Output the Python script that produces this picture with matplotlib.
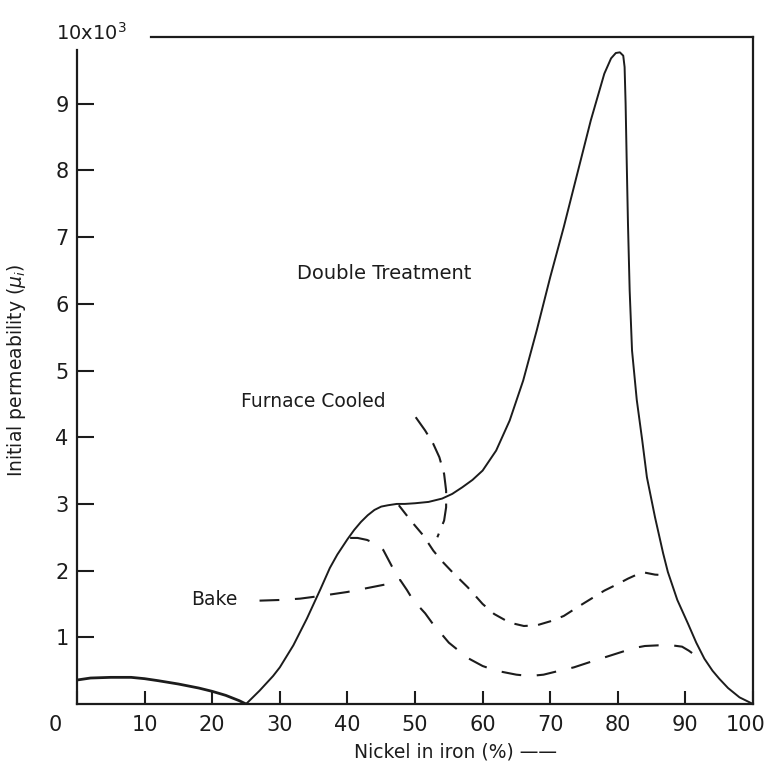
import matplotlib
matplotlib.use("Agg")
import matplotlib.pyplot as plt
from matplotlib.transforms import ScaledTranslation

# values (x = % nickel, y = permeability in 10^3)
low_x = [0, 2, 5, 8, 10, 12, 15, 18, 20, 22, 24, 25]
low_y = [0.36, 0.39, 0.40, 0.40, 0.38, 0.35, 0.30, 0.24, 0.19, 0.13, 0.05, 0.0]

double_x = [25, 27, 29, 30, 32, 34, 35, 36, 37.4, 38.5, 40, 41, 42, 43, 44, 45, 46,
            47.3, 48.5, 50, 52, 54, 55.5, 57, 58.5, 60, 62, 64, 66, 68, 70, 72, 74,
            76, 78, 79, 79.7, 80.3, 80.8, 81.0, 81.15, 81.3, 81.5, 81.75, 82.1, 82.8,
            83.6, 84.3, 85.5, 86.7, 87.4, 88.8, 90.4, 91.6, 92.8, 94, 95, 96.3, 98, 100]
double_y = [0.0, 0.2, 0.42, 0.55, 0.88, 1.28, 1.5, 1.72, 2.04, 2.24, 2.47, 2.61, 2.73,
            2.83, 2.91, 2.96, 2.98, 3.0, 3.0, 3.01, 3.03, 3.08, 3.15, 3.25, 3.36, 3.5,
            3.8, 4.25, 4.85, 5.6, 6.4, 7.15, 7.95, 8.75, 9.45, 9.68, 9.76, 9.77, 9.72,
            9.55, 9.0, 8.2, 7.2, 6.2, 5.3, 4.56, 3.96, 3.4, 2.8, 2.26, 1.98, 1.56, 1.2,
            0.92, 0.68, 0.5, 0.38, 0.24, 0.1, 0.0]

furnace_x = [47.6, 48.6, 49.7, 51.2, 52.7, 54, 55.5, 57.8, 60, 61.7, 64, 66.1, 68, 70,
             72, 74, 75.6, 78, 80, 81.5, 82.8, 84, 85.5, 87.2]
furnace_y = [2.98, 2.85, 2.71, 2.53, 2.3, 2.14, 1.98, 1.75, 1.5, 1.35, 1.22, 1.17, 1.18,
             1.24, 1.32, 1.45, 1.55, 1.7, 1.8, 1.88, 1.94, 1.97, 1.94, 1.93]

bake_x = [27, 30, 33, 36, 38, 40, 42, 44, 46, 47.8, 48.8, 49.7, 51.5, 52.5, 55, 57.8,
          60, 62, 65, 67, 69, 71, 73.5, 76.5, 79, 82.4, 84, 86, 88, 89.5, 90.5, 92.8]
bake_y = [1.55, 1.56, 1.58, 1.62, 1.65, 1.68, 1.72, 1.76, 1.8, 1.86, 1.71, 1.56, 1.36,
          1.22, 0.92, 0.69, 0.57, 0.5, 0.44, 0.42, 0.44, 0.49, 0.55, 0.65, 0.73, 0.84,
          0.87, 0.88, 0.88, 0.86, 0.8, 0.63]

branch_x = [40.4, 41.5, 42.9, 44.2, 45.3, 46.6, 47.8]
branch_y = [2.49, 2.49, 2.46, 2.4, 2.31, 2.06, 1.86]

leader_x = [50.1, 51.5, 52.7, 53.6, 54.3, 54.6, 54.6, 54.3, 53.3]
leader_y = [4.3, 4.1, 3.9, 3.7, 3.45, 3.2, 2.95, 2.75, 2.5]

x_ticks = [0, 10, 20, 30, 40, 50, 60, 70, 80, 90, 100]
y_ticks = [1, 2, 3, 4, 5, 6, 7, 8, 9]

ink = "#1c1c1c"
plt.rcParams["font.family"] = "DejaVu Sans"

fig = plt.figure(figsize=(7.71, 7.66), dpi=100)
ax = fig.add_axes([0.0999, 0.0809, 0.8768, 0.8708])
ax.set_xlim(0, 100)
ax.set_ylim(0, 10)

ax.plot(low_x, low_y, color=ink, lw=2.0)
ax.plot(double_x, double_y, color=ink, lw=1.4)
ax.plot(furnace_x, furnace_y, color=ink, lw=1.5, linestyle=(0, (6.5, 5)))
ax.plot(bake_x, bake_y, color=ink, lw=1.5, linestyle=(0, (9.5, 7.5)))
ax.plot(branch_x, branch_y, color=ink, lw=1.5, linestyle=(0, (9.5, 7.5)))
ax.plot(leader_x, leader_y, color=ink, lw=1.5, linestyle=(0, (10, 5)))

# frame: left axis stops under the 10x10^3 label, top line starts to its right
for side in ["left", "right", "bottom", "top"]:
    ax.spines[side].set_linewidth(1.6)
    ax.spines[side].set_color(ink)
ax.spines["left"].set_bounds(0, 9.8)
ax.spines["top"].set_bounds(11, 100)

ax.set_yticks(y_ticks)
ax.set_yticklabels([str(v) for v in y_ticks])
ax.set_xticks(x_ticks)
ax.set_xticklabels([str(v) for v in x_ticks])
ax.tick_params(axis="y", direction="in", length=12, width=1.5, pad=6,
               labelsize=15, colors=ink)
ax.tick_params(axis="x", direction="in", length=9.5, width=1.5, pad=8,
               labelsize=15, colors=ink)
xlabels = ax.get_xticklabels()
xlabels[0].set_transform(xlabels[0].get_transform() +
                         ScaledTranslation(-0.22, 0, fig.dpi_scale_trans))
xlabels[-1].set_transform(xlabels[-1].get_transform() +
                          ScaledTranslation(-0.07, 0, fig.dpi_scale_trans))

ax.text(2.1, 10.06, "10x10$^3$", ha="center", va="center", fontsize=14,
        color=ink, clip_on=False)
ax.text(45.4, 6.46, "Double Treatment", ha="center", va="center", fontsize=14,
        color=ink)
ax.text(35.0, 4.53, "Furnace Cooled", ha="center", va="center", fontsize=13.5,
        color=ink)
ax.text(20.3, 1.56, "Bake", ha="center", va="center", fontsize=13.5, color=ink)

ax.set_xlabel("Nickel in iron (%) \u2014\u2014", fontsize=13.5, color=ink)
ax.xaxis.set_label_coords(0.56, -0.058)
ax.set_ylabel("Initial permeability ($\\mu_i$)", fontsize=13.5, color=ink)
ax.yaxis.set_label_coords(-0.072, 0.5)

fig.savefig("out.png", dpi=100, facecolor="white")
